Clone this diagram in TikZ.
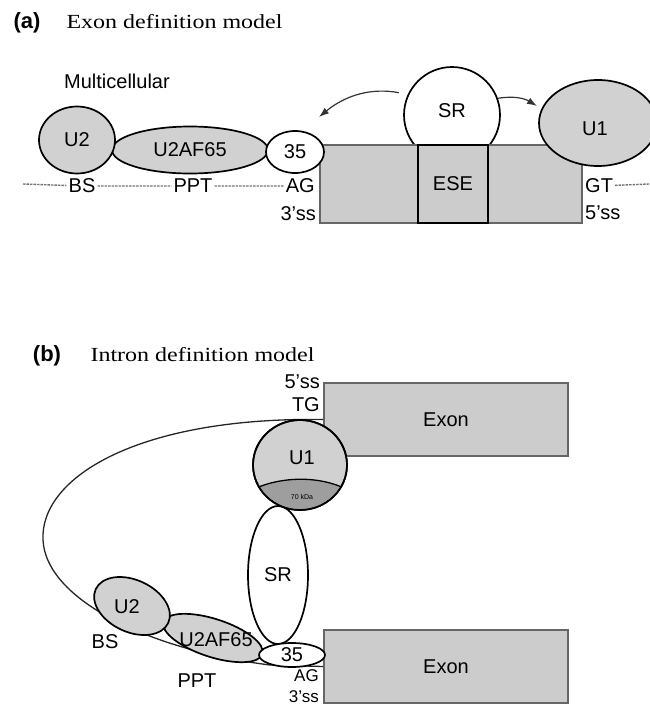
\documentclass[tikz,border=0pt]{standalone}
\usepackage{fontspec}
\setmainfont{Liberation Serif}
\setsansfont{Liberation Sans}
\newfontfamily\titlefont[FakeStretch=1.2]{Liberation Serif}
\usetikzlibrary{shapes.geometric,arrows.meta}
\newcommand{\lblfont}{\sffamily\fontsize{20}{22}\selectfont}
\newcommand{\smlblfont}{\sffamily\fontsize{17}{19}\selectfont}
\definecolor{blobgray}{gray}{0.82}
\definecolor{exongray}{gray}{0.80}
\definecolor{capgray}{gray}{0.62}
\tikzset{
  blob/.style={ellipse, draw=black, line width=1.7pt, inner sep=0pt, font=\lblfont},
  exonbox/.style={rectangle, draw=black!60, line width=1.6pt, fill=exongray, inner sep=0pt, font=\lblfont},
  lbl/.style={font=\lblfont, inner sep=2pt},
  intron/.style={draw=black!55, line width=1.4pt, dash pattern=on 2.5pt off 1pt},
  loopline/.style={draw=black!85, line width=1.3pt},
  flow/.style={-{Latex[length=10pt,width=7pt]}, line width=1.2pt, draw=black!80},
  paneltag/.style={font=\sffamily\bfseries\fontsize{22}{24}\selectfont, anchor=base},
  paneltitle/.style={font=\titlefont\fontsize{20}{24}\selectfont, anchor=base west}
}
\begin{document}
\begin{tikzpicture}[x=1pt,y=-1pt]
\useasboundingbox (0,0) rectangle (649,707);

% (a) exon definition
\node[paneltag] (tagA) at (27,28) {(a)};
\node[paneltitle] (titleA) at (63,28) {Exon definition model};
\node[lbl] (multi) at (117,81) {Multicellular};

\node[blob, fill=white, minimum width=96pt, minimum height=96pt] (SRa) at (452,115) {};
\node[lbl] at (452,111) {SR};
\node[exonbox, minimum width=262pt, minimum height=78pt] (exonA) at (451,184) {};
\node[exonbox, draw=black, minimum width=70pt, minimum height=78pt] (ESE) at (453,184) {ESE};
\node[blob, fill=blobgray, minimum width=118pt, minimum height=86pt] (U1a) at (598,123) {};
\node[lbl] at (595,129) {U1};

\node[blob, fill=blobgray, minimum width=156pt, minimum height=47pt] (U2AFa) at (190,150) {U2AF65};
\node[blob, fill=blobgray, minimum width=76pt, minimum height=67pt] (U2a) at (77,140) {U2};
\node[blob, fill=white, minimum width=58pt, minimum height=42pt] (a35) at (295,152) {35};

\node[lbl] (BSa) at (82,186) {BS};
\node[lbl] (PPTa) at (193,186) {PPT};
\node[lbl, anchor=east] (AGa) at (317,186) {AG};
\node[lbl, anchor=east] (ssA3) at (318,214) {3’ss};
\node[lbl, anchor=west] (GTa) at (583,186) {GT};
\node[lbl, anchor=west] (ssA5) at (583,213) {5’ss};

\coordinate (inA) at (23,184);
\coordinate (outA) at (649,184);
\draw[intron] (inA) -- (BSa) -- (PPTa) -- (AGa);
\draw[intron] (GTa) -- (outA);

\coordinate (tipL) at (319,117);
\coordinate (tipR) at (537,106);
\draw[flow, shorten <=9pt] (SRa.155) to[bend right=25] (tipL);
\draw[flow] (SRa.20) to[bend left=20] (tipR);

% (b) intron definition
\node[paneltag] (tagB) at (47,361) {(b)};
\node[paneltitle] (titleB) at (87,361) {Intron definition model};

\node[exonbox, minimum width=244pt, minimum height=73pt] (exonT) at (446,419.5) {Exon};
\node[exonbox, minimum width=244pt, minimum height=73pt] (exonB) at (446,666.5) {Exon};

\draw[loopline] (exonT.west) -- (300,419.5)
  .. controls (130,422) and (40,480) .. (43,540)
  .. controls (46,600) and (150,650) .. (270,665) -- (exonB.west);

\node[blob, fill=white, minimum width=60pt, minimum height=138pt] (SRb) at (278,575) {SR};

\node[blob, fill=blobgray, minimum width=94pt, minimum height=90pt] (U1b) at (300,465) {};
\begin{scope}
  \clip (U1b.center) ellipse [x radius=46pt, y radius=44pt];
  \fill[capgray] (254,489) .. controls (282,476) and (320,476) .. (346,489) -- (346,520) -- (254,520) -- cycle;
  \draw[line width=1.3pt] (254,489) .. controls (282,476) and (320,476) .. (346,489);
\end{scope}
\draw[line width=1.7pt] (U1b.center) ellipse [x radius=47pt, y radius=45pt];
\node[lbl] (U1lbl) at (302,458) {U1};
\node[font=\sffamily\fontsize{7}{8}\selectfont, inner sep=0pt] (kda) at (302,497) {70 kDa};

\node[blob, fill=blobgray, rotate=-18, minimum width=104pt, minimum height=38pt] (U2AFb) at (213,638) {};
\node[lbl] (U2AFlbl) at (216,640) {U2AF65};
\node[blob, fill=blobgray, rotate=-25, minimum width=80pt, minimum height=52pt] (U2b) at (132,606) {};
\node[lbl] (U2lbl) at (127,607) {U2};
\node[blob, fill=white, minimum width=66pt, minimum height=24pt] (b35) at (292,655) {35};

\node[lbl] (BSb) at (105,642) {BS};
\node[lbl] (PPTb) at (197,681) {PPT};
\node[lbl, font=\smlblfont, anchor=east, inner sep=1pt] (AGb) at (320,676) {AG};
\node[lbl, font=\smlblfont, anchor=east, inner sep=1pt] (ssB3) at (320,697) {3’ss};
\node[lbl, anchor=east] (ssB5) at (322,382) {5’ss};
\node[lbl, anchor=east] (TGb) at (322,405) {TG};
\end{tikzpicture}
\end{document}
